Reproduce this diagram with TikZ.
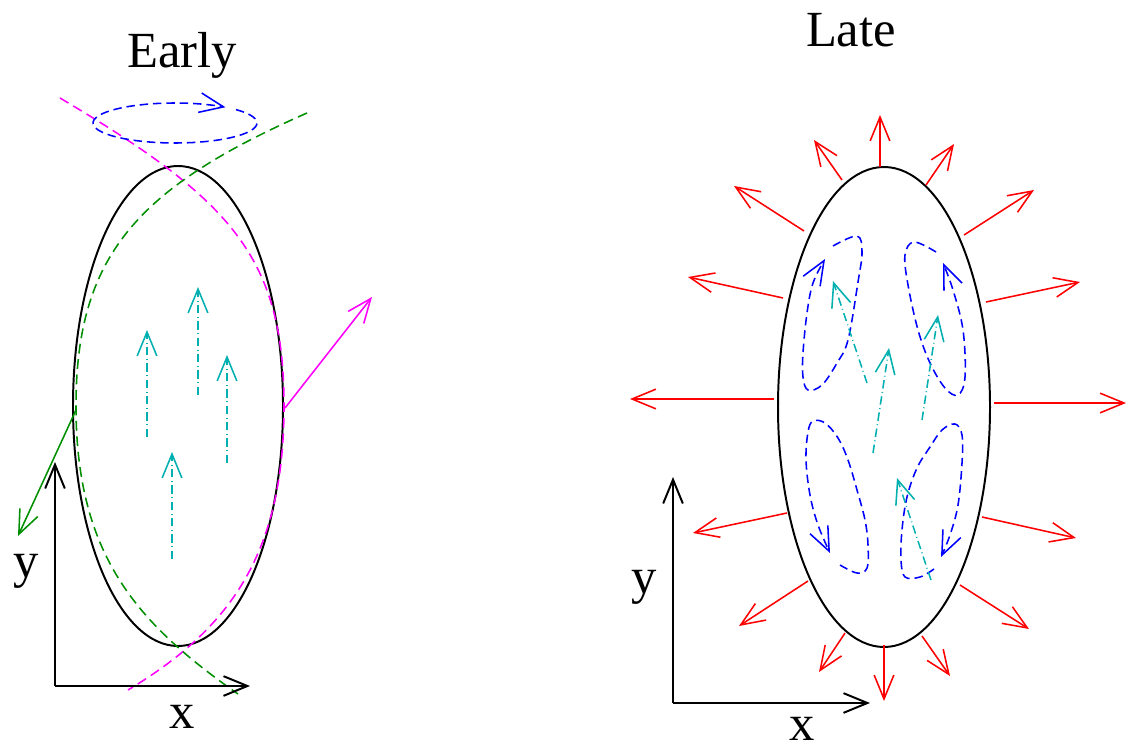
\documentclass[tikz,border=0pt]{standalone}
\usepackage{fontspec}
\setmainfont{Liberation Serif}
\usepackage{xcolor}
\usepackage{tikz}
\definecolor{fgreen}{HTML}{008F00}
\definecolor{fcyan}{HTML}{00AFAF}
\definecolor{fmagenta}{HTML}{FF00FF}
\usetikzlibrary{arrows.meta}

\begin{document}
\begin{tikzpicture}[x=0.025cm,y=-0.025cm,
  lbl/.style={font=\fontsize{36}{40}\selectfont,inner sep=0pt,anchor=base},
  body/.style={draw=black,line width=1.4pt},
  tip/.style={-{Straight Barb[length=17pt,width=14pt]}},
  axis/.style={tip,line width=1.4pt},
  flow/.style={tip,line width=1.1pt},
  swirl/.style={flow,blue,dash pattern=on 6pt off 3.5pt},
  kick/.style={flow,fcyan,dash pattern=on 6pt off 2.5pt on 0.6pt off 2.5pt},
  shock/.style={line width=1.1pt,dash pattern=on 7pt off 4pt}]
  \useasboundingbox (0,0) rectangle (1128,747);
  % Early
  \node[lbl] (early) at (182,68){Early};
  \draw[body] (178,406) ellipse [x radius=105,y radius=240];
  \draw[shock,fmagenta] (60,98) .. controls (230,199) and (284,256) .. (284,406)
    .. controls (284,556) and (228,630) .. (128,690);
  \draw[shock,fgreen] (307,113) .. controls (137,188) and (76,256) .. (76,406)
    .. controls (76,556) and (138,624) .. (238,694);
  \draw[swirl] plot[smooth,domain=0:350,samples=60]
    ({175+82*cos(402-\x)},{123-20*sin(402-\x)});
  \coordinate (pm) at (285,408); \coordinate (qm) at (372,297);
  \coordinate (pg) at (76,410);  \coordinate (qg) at (18,536);
  \draw[flow,fmagenta] (pm) -- (qm);
  \draw[flow,fgreen] (pg) -- (qg);
  \foreach \x/\a/\b in {147/437/330,198/395/287,227/463/355,172/559/452}
    \draw[kick] (\x,\a) -- (\x,\b);
  \coordinate (o1) at (55,686);
  \draw[axis] (o1) -- (55,462) coordinate (y1);
  \draw[axis] (o1) -- (250,686) coordinate (x1);
  \node[lbl] (ly1) at (26,577){y};
  \node[lbl] (lx1) at (182,728){x};
  % Late
  \node[lbl] (late) at (851,47){Late};
  \draw[body] (884,407) ellipse [x radius=106,y radius=240];
  \foreach \a/\b/\c/\d in {880/167/880/115,842/180/814/140,926/185/954/144,
      804/231/734/186,964/235/1034/190,783/298/688/277,986/302/1080/282,
      774/399/630/399,994/403/1126/403,787/513/693/533,982/517/1076/538,
      808/581/739/626,960/585/1029/629,845/633/819/672,922/636/950/676,
      884/645/884/701}
    \draw[flow,red] (\a,\b) -- (\c,\d);
  \draw[swirl] plot[smooth,tension=0.6] coordinates {(833,246) (857,236) (862,252)
    (858,282) (848,340) (837,363) (822,385) (808,390) (803,377) (803,353)
    (807,313) (813,283) (825,259)};
  \draw[swirl] plot[smooth,tension=0.6] coordinates {(936,252) (914,242) (905,255)
    (908,285) (918,330) (930,363) (945,388) (958,395) (965,377) (963,330)
    (953,290) (943,263)};
  \draw[swirl] plot[smooth,tension=0.6] coordinates {(840,565) (857,573) (867,568)
    (868,545) (865,520) (857,490) (848,460) (838,438) (825,423) (813,421)
    (808,432) (806,460) (810,495) (818,525) (830,553)};
  \draw[swirl] plot[smooth,tension=0.6] coordinates {(934,569) (920,577) (905,577)
    (901,560) (902,530) (907,497) (917,468) (930,447) (942,430) (955,424)
    (962,435) (962,463) (958,505) (950,535) (941,557)};
  \foreach \a/\b/\c/\d in {867/383/833/281,873/453/889/348,922/420/938/315,
      931/580/897/478}
    \draw[kick] (\a,\b) -- (\c,\d);
  \coordinate (o2) at (673,703);
  \draw[axis] (o2) -- (673,477) coordinate (y2);
  \draw[axis] (o2) -- (870,703) coordinate (x2);
  \node[lbl] (ly2) at (644,593){y};
  \node[lbl] (lx2) at (802,740){x};
\end{tikzpicture}
\end{document}
